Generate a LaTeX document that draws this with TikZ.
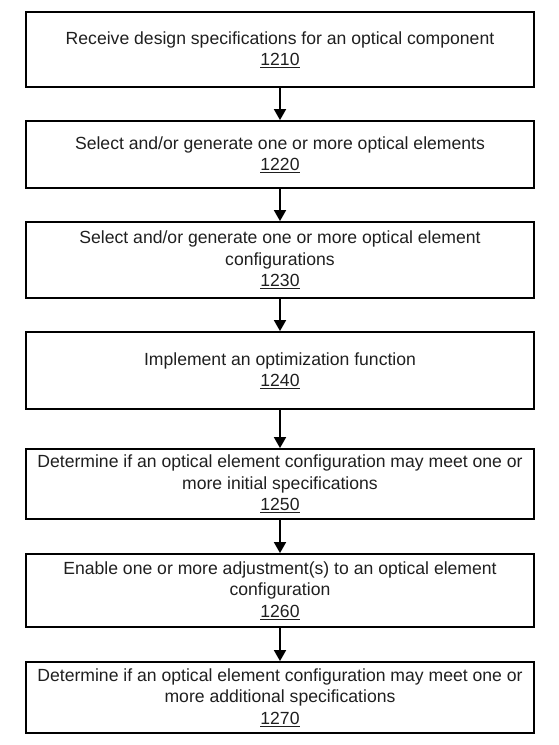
\documentclass[tikz,border=0pt]{standalone}
\usepackage{fontspec}
\setmainfont{Liberation Sans}
\usetikzlibrary{arrows.meta}
\tikzset{
  box/.style={draw=black, line width=1.8pt, minimum width=508pt, inner sep=0pt,
    align=center, font=\fontsize{17.6}{21.5}\selectfont, text=black!88},
  flow/.style={line width=1.8pt, -{Triangle[length=11pt,width=12pt]}}
}
\newcommand{\refnum}[1]{\underline{#1}}
\begin{document}
\begin{tikzpicture}[x=1pt,y=-1pt]
\useasboundingbox (0,0) rectangle (559,745);
\node[box, minimum height=75pt] (b1) at (280,49.5) {Receive design specifications for an optical component\\\refnum{1210}};
\node[box, minimum height=67pt] (b2) at (280,154.5) {Select and/or generate one or more optical elements\\\refnum{1220}};
\node[box, minimum height=76pt] (b3) at (280,260) {Select and/or generate one or more optical element\\configurations\\\refnum{1230}};
\node[box, minimum height=77pt] (b4) at (280,370.5) {Implement an optimization function\\\refnum{1240}};
\node[box, minimum height=70pt] (b5) at (280,484) {Determine if an optical element configuration may meet one or\\more initial specifications\\\refnum{1250}};
\node[box, minimum height=73pt] (b6) at (280,590.5) {Enable one or more adjustment(s) to an optical element\\configuration\\\refnum{1260}};
\node[box, minimum height=71pt] (b7) at (280,697.5) {Determine if an optical element configuration may meet one or\\more additional specifications\\\refnum{1270}};
\draw[flow] (b1) -- (b2);
\draw[flow] (b2) -- (b3);
\draw[flow] (b3) -- (b4);
\draw[flow] (b4) -- (b5);
\draw[flow] (b5) -- (b6);
\draw[flow] (b6) -- (b7);
\end{tikzpicture}
\end{document}
